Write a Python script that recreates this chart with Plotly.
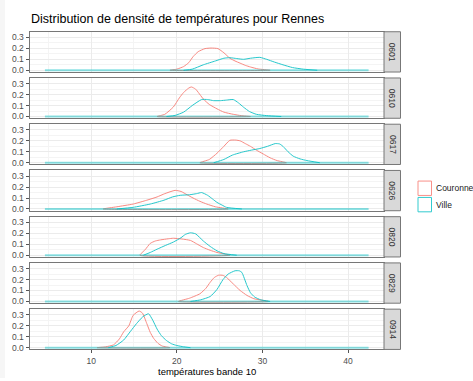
import plotly.graph_objects as go

W, H = 473, 381

dates = ["0601", "0610", "0617", "0626", "0820", "0829", "0914"]
series_names = ["Couronne", "Ville"]
colors = {"Couronne": "#F8766D", "Ville": "#00BFC4"}

x_ticks = [10, 20, 30, 40]
x_minor = [5, 15, 25, 35]
y_ticks = [0.0, 0.1, 0.2, 0.3]
y_minor = [0.05, 0.15, 0.25]
x_span = [4.6, 42.4]  # range of temperatures in the data (baseline)

# density curves
couronne_0601_x = [19.2, 20.0, 20.8, 21.4, 21.9, 22.5, 23.3, 24.0, 24.8, 25.5, 26.2, 26.8, 27.4, 28.0, 28.6, 29.5, 30.9]
couronne_0601_y = [0, 0.01, 0.034, 0.07, 0.124, 0.17, 0.198, 0.203, 0.198, 0.16, 0.11, 0.085, 0.065, 0.045, 0.03, 0.012, 0]
ville_0601_x = [20.8, 21.8, 23.1, 24.5, 25.5, 26.2, 27.0, 27.8, 28.6, 29.7, 30.5, 31.4, 32.4, 33.5, 34.8, 36.4]
ville_0601_y = [0, 0.01, 0.05, 0.085, 0.11, 0.115, 0.107, 0.10, 0.11, 0.118, 0.10, 0.075, 0.05, 0.025, 0.01, 0]

couronne_0610_x = [17.7, 18.6, 19.6, 20.3, 20.8, 21.4, 21.7, 22.2, 23.1, 23.8, 24.7, 25.5, 26.6, 27.5, 28.6]
couronne_0610_y = [0, 0.02, 0.087, 0.17, 0.22, 0.26, 0.27, 0.25, 0.16, 0.11, 0.07, 0.04, 0.02, 0.008, 0]
ville_0610_x = [18.8, 19.8, 20.8, 21.8, 22.9, 23.6, 24.3, 25.1, 25.8, 26.6, 27.2, 27.8, 28.5, 29.3, 30.5, 32.2]
ville_0610_y = [0, 0.01, 0.04, 0.10, 0.155, 0.155, 0.145, 0.145, 0.15, 0.155, 0.125, 0.085, 0.045, 0.02, 0.008, 0]

couronne_0617_x = [22.7, 23.8, 24.7, 25.5, 26.2, 26.9, 27.4, 28.0, 28.6, 29.3, 30.1, 30.9, 31.7, 32.8]
couronne_0617_y = [0, 0.03, 0.087, 0.15, 0.205, 0.207, 0.20, 0.175, 0.15, 0.115, 0.08, 0.045, 0.02, 0]
ville_0617_x = [24.3, 25.5, 26.5, 27.8, 28.7, 29.7, 30.6, 31.5, 32.0, 32.4, 33.0, 33.6, 34.4, 35.2, 36.7]
ville_0617_y = [0, 0.03, 0.07, 0.10, 0.115, 0.13, 0.15, 0.175, 0.172, 0.15, 0.10, 0.06, 0.035, 0.02, 0]

couronne_0626_x = [11.4, 13.0, 14.9, 16.5, 17.7, 18.6, 19.8, 20.5, 21.2, 21.9, 22.7, 23.5, 24.5, 26.0]
couronne_0626_y = [0, 0.02, 0.045, 0.08, 0.11, 0.14, 0.17, 0.16, 0.13, 0.10, 0.07, 0.045, 0.02, 0]
ville_0626_x = [13.0, 14.9, 16.9, 18.5, 19.5, 20.4, 21.5, 22.3, 22.9, 23.6, 24.2, 24.7, 25.3, 25.8, 27.6]
ville_0626_y = [0, 0.015, 0.045, 0.08, 0.11, 0.125, 0.13, 0.14, 0.15, 0.125, 0.09, 0.06, 0.035, 0.015, 0]

couronne_0820_x = [15.7, 16.3, 16.9, 17.5, 18.1, 19.0, 19.6, 20.6, 21.6, 22.3, 23.1, 23.9, 24.7, 26.2]
couronne_0820_y = [0, 0.05, 0.108, 0.13, 0.14, 0.15, 0.155, 0.148, 0.135, 0.105, 0.07, 0.045, 0.025, 0]
ville_0820_x = [16.1, 16.9, 17.7, 18.7, 19.6, 20.5, 21.0, 21.6, 22.2, 23.1, 23.9, 24.7, 25.5, 27.0]
ville_0820_y = [0, 0.025, 0.055, 0.09, 0.12, 0.16, 0.19, 0.205, 0.195, 0.13, 0.08, 0.04, 0.015, 0]

couronne_0829_x = [20.2, 21.5, 22.7, 23.4, 23.9, 24.4, 24.9, 25.4, 25.8, 26.6, 27.4, 28.2, 29.0, 30.7]
couronne_0829_y = [0, 0.03, 0.07, 0.12, 0.175, 0.22, 0.24, 0.238, 0.22, 0.16, 0.10, 0.055, 0.025, 0]
ville_0829_x = [21.6, 22.8, 23.9, 24.7, 25.4, 26.0, 26.8, 27.3, 27.6, 28.2, 28.6, 29.1, 29.8, 30.9]
ville_0829_y = [0, 0.015, 0.045, 0.11, 0.20, 0.25, 0.28, 0.28, 0.265, 0.145, 0.08, 0.04, 0.015, 0]

couronne_0914_x = [10.7, 11.7, 12.6, 13.3, 13.8, 14.4, 14.9, 15.6, 16.0, 16.5, 16.9, 17.3, 17.8, 18.3, 19.2]
couronne_0914_y = [0, 0.008, 0.025, 0.08, 0.145, 0.20, 0.295, 0.335, 0.315, 0.22, 0.14, 0.085, 0.04, 0.015, 0]
ville_0914_x = [12.0, 12.9, 13.8, 14.6, 15.3, 16.0, 16.7, 17.2, 17.7, 18.2, 18.8, 19.4, 20.0, 20.8, 21.6]
ville_0914_y = [0, 0.02, 0.07, 0.15, 0.22, 0.28, 0.31, 0.25, 0.17, 0.11, 0.065, 0.035, 0.02, 0.008, 0]

curves = {
    "0601": {"Couronne": (couronne_0601_x, couronne_0601_y), "Ville": (ville_0601_x, ville_0601_y)},
    "0610": {"Couronne": (couronne_0610_x, couronne_0610_y), "Ville": (ville_0610_x, ville_0610_y)},
    "0617": {"Couronne": (couronne_0617_x, couronne_0617_y), "Ville": (ville_0617_x, ville_0617_y)},
    "0626": {"Couronne": (couronne_0626_x, couronne_0626_y), "Ville": (ville_0626_x, ville_0626_y)},
    "0820": {"Couronne": (couronne_0820_x, couronne_0820_y), "Ville": (ville_0820_x, ville_0820_y)},
    "0829": {"Couronne": (couronne_0829_x, couronne_0829_y), "Ville": (ville_0829_x, ville_0829_y)},
    "0914": {"Couronne": (couronne_0914_x, couronne_0914_y), "Ville": (ville_0914_x, ville_0914_y)},
}

# ---- layout geometry (pixels) ----
PX_L, PX_R = 29.5, 384.0
STRIP_R = 400.5
TOP0, PANEL_H, STEP = 32.0, 40.6, 46.6


def px(xp):
    return xp / W


def py(yp):
    return 1 - yp / H


fig = go.Figure()
layout = dict(
    width=W, height=H, margin=dict(l=0, r=0, t=0, b=0),
    paper_bgcolor="white", plot_bgcolor="white", showlegend=False,
    font=dict(family="Liberation Sans, Arial, sans-serif", size=8.5, color="#4D4D4D"),
)
shapes = []
annotations = []

BORDER = "#777777"
GRID = "#EBEBEB"
GRID_MINOR = "#F4F4F4"

for i, d in enumerate(dates):
    n = i + 1
    xa = "x" if n == 1 else f"x{n}"
    ya = "y" if n == 1 else f"y{n}"
    top = TOP0 + i * STEP
    bot = top + PANEL_H
    last = (i == len(dates) - 1)
    layout["xaxis" if n == 1 else f"xaxis{n}"] = dict(
        domain=[px(PX_L), px(PX_R)], anchor=ya, range=[2.8, 44.2],
        tickvals=x_ticks, ticktext=[str(v) for v in x_ticks],
        showticklabels=last, ticks="outside" if last else "", ticklen=3, tickwidth=1,
        tickcolor="#555555", tickfont=dict(size=8.5, color="#4D4D4D"),
        showgrid=True, gridcolor=GRID, gridwidth=1, zeroline=False,
        minor=dict(tickvals=x_minor, showgrid=True, gridcolor=GRID_MINOR, gridwidth=1, ticks=""),
        showline=True, linecolor=BORDER, linewidth=1, mirror=True,
    )
    layout["yaxis" if n == 1 else f"yaxis{n}"] = dict(
        domain=[py(bot), py(top)], anchor=xa, range=[-0.016, 0.352],
        tickvals=y_ticks, ticktext=[f"{v:.1f}" for v in y_ticks],
        ticks="outside", ticklen=3, tickwidth=1, tickcolor="#555555",
        tickfont=dict(size=8.5, color="#4D4D4D"),
        showgrid=True, gridcolor=GRID, gridwidth=1, zeroline=False,
        minor=dict(tickvals=y_minor, showgrid=True, gridcolor=GRID_MINOR, gridwidth=1, ticks=""),
        showline=True, linecolor=BORDER, linewidth=1, mirror=True,
    )
    # Couronne curve (closed along the baseline like a density outline)
    cx, cy = curves[d]["Couronne"]
    fig.add_trace(go.Scatter(x=cx + [cx[0]], y=cy + [0], mode="lines", xaxis=xa, yaxis=ya,
                             line=dict(color=colors["Couronne"], width=1, shape="spline", smoothing=0.5),
                             opacity=0.85, hoverinfo="skip"))
    # Ville baseline over full data span
    fig.add_trace(go.Scatter(x=x_span, y=[0, 0], mode="lines", xaxis=xa, yaxis=ya,
                             line=dict(color=colors["Ville"], width=2), opacity=0.45, hoverinfo="skip"))
    vx, vy = curves[d]["Ville"]
    fig.add_trace(go.Scatter(x=vx, y=vy, mode="lines", xaxis=xa, yaxis=ya,
                             line=dict(color=colors["Ville"], width=1, shape="spline", smoothing=0.5),
                             opacity=0.85, hoverinfo="skip"))
    # strip
    shapes.append(dict(type="rect", xref="paper", yref="paper",
                       x0=px(PX_R), x1=px(STRIP_R), y0=py(bot), y1=py(top),
                       fillcolor="#D9D9D9", line=dict(color=BORDER, width=1), layer="above"))
    annotations.append(dict(xref="paper", yref="paper", x=px((PX_R + STRIP_R) / 2), y=py((top + bot) / 2),
                            text=d, showarrow=False, textangle=90,
                            font=dict(size=8.5, color="#333333"), xanchor="center", yanchor="middle"))

# light frame strip on the far left of the picture
shapes.append(dict(type="rect", xref="paper", yref="paper", x0=0, x1=px(5), y0=0, y1=1,
                   fillcolor="#F6F6F6", line=dict(width=0), layer="below"))

# title and axis title
annotations.append(dict(xref="paper", yref="paper", x=px(29), y=py(19),
                        text="Distribution de densité de températures pour Rennes", showarrow=False,
                        xanchor="left", yanchor="middle", font=dict(size=12.5, color="black")))
annotations.append(dict(xref="paper", yref="paper", x=px((PX_L + PX_R) / 2), y=py(374),
                        text="températures bande 10", showarrow=False,
                        xanchor="center", yanchor="middle", font=dict(size=9.5, color="black")))

# legend (outlined keys as in ggplot density legend)
key_tops = [182.5, 199.0]
for name, kt in zip(series_names, key_tops):
    shapes.append(dict(type="rect", xref="paper", yref="paper",
                       x0=px(418), x1=px(431.5), y0=py(kt + 14.5), y1=py(kt),
                       fillcolor="white", line=dict(color=colors[name], width=1), opacity=0.8))
    annotations.append(dict(xref="paper", yref="paper", x=px(434), y=py(kt + 7.2),
                            text=name, showarrow=False, xanchor="left", yanchor="middle",
                            font=dict(size=8.5, color="#1A1A1A")))

layout["shapes"] = shapes
layout["annotations"] = annotations
fig.update_layout(**layout)
fig.write_html("out.html")
